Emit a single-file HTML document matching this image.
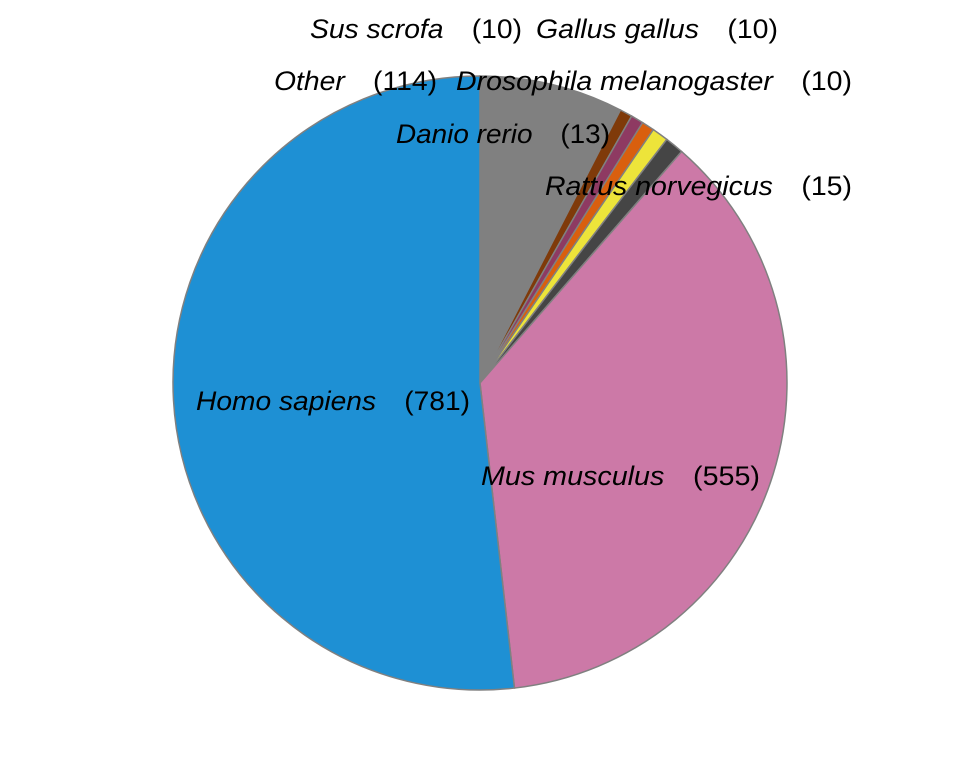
<!DOCTYPE html>
<html><head><meta charset="utf-8"><style>
html,body{margin:0;padding:0;background:#fff;}
svg{display:block;}
text{font-family:"Liberation Sans",Arial,sans-serif;font-size:27px;fill:#000;}
</style></head><body>
<svg id="chart" width="960" height="768" viewBox="0 0 960 768">
<g id="slices"></g>
<g id="labels"></g>
</svg>
<script>
const categories = ["Other","Sus scrofa","Gallus gallus","Drosophila melanogaster","Danio rerio","Rattus norvegicus","Mus musculus","Homo sapiens"];
const counts = [114,10,10,10,13,15,555,781];
const colors = ["#808080","#7f3a0a","#8e3a62","#d95f0e","#ede43a","#454545","#cc79a7","#1e90d4"];
const labelPos = [[274,90],[310,38],[536,38],[456,90],[396,143],[545,195],[481,485],[196,410]];
const labelWidth = [163,212,242,396,214,307,279,274];
const cx=480, cy=383, r=307;
const NS="http://www.w3.org/2000/svg";
const total=counts.reduce((a,b)=>a+b,0);
let a0=0;
const sg=document.getElementById('slices'), lg=document.getElementById('labels');
function pt(a){return [cx+r*Math.sin(a), cy-r*Math.cos(a)];}
counts.forEach((v,i)=>{
  const a1=a0+v/total*2*Math.PI;
  const p0=pt(a0), p1=pt(a1);
  const large=(a1-a0)>Math.PI?1:0;
  const p=document.createElementNS(NS,'path');
  p.setAttribute('d',`M${cx},${cy}L${p0[0]},${p0[1]}A${r},${r} 0 ${large} 1 ${p1[0]},${p1[1]}Z`);
  p.setAttribute('fill',colors[i]);
  p.setAttribute('stroke','#808080');
  p.setAttribute('stroke-width','1.5');
  
  
  sg.appendChild(p);
  a0=a1;
});
categories.forEach((c,i)=>{
  const t=document.createElementNS(NS,'text');
  t.setAttribute('x',labelPos[i][0]);
  t.setAttribute('y',labelPos[i][1]);
  t.setAttribute('textLength',labelWidth[i]);
  t.setAttribute('lengthAdjust','spacingAndGlyphs');
  
  
  const s1=document.createElementNS(NS,'tspan');
  s1.setAttribute('font-style','italic');
  s1.textContent=c;
  const s2=document.createElementNS(NS,'tspan');
  s2.textContent='\u2003(' + counts[i] + ')';
  t.appendChild(s1);t.appendChild(s2);
  lg.appendChild(t);
});
</script>
</body></html>
